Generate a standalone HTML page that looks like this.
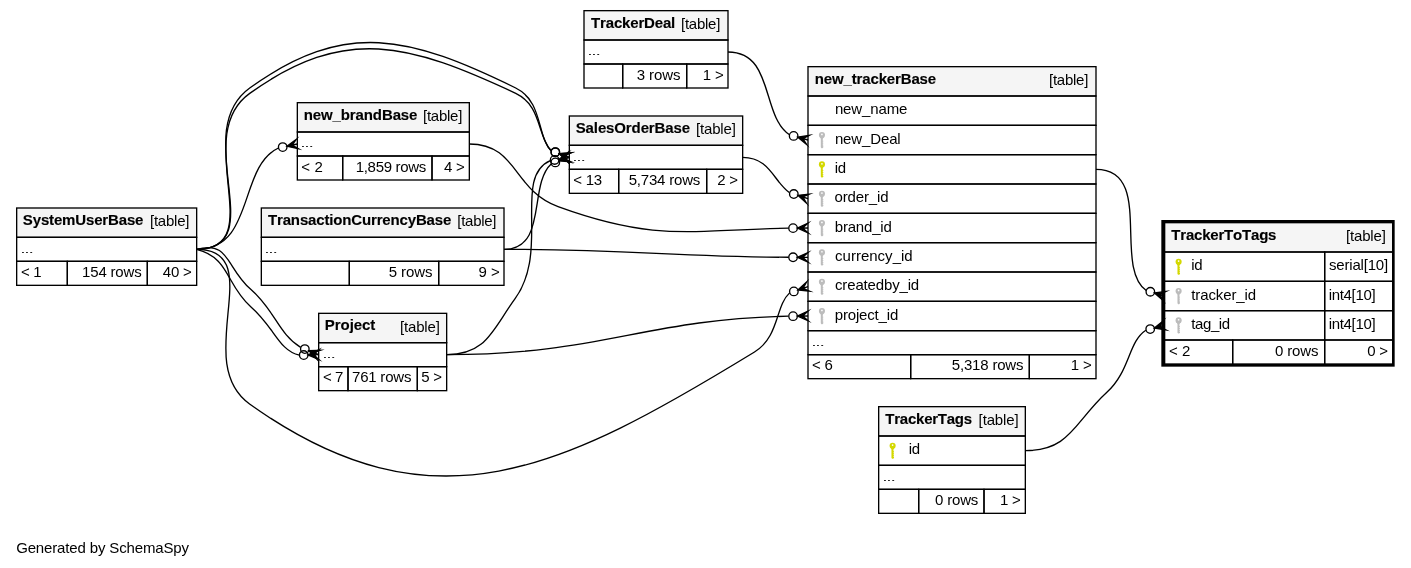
<!DOCTYPE html>
<html><head><meta charset="utf-8"><title>TrackerToTags</title>
<style>
html,body{margin:0;padding:0;background:#fff;}
body{width:1411px;height:568px;overflow:hidden;font-family:"Liberation Sans",Arial,sans-serif;}
svg{display:block;will-change:transform;}
text{font-kerning:none;}
</style></head><body>
<svg xmlns="http://www.w3.org/2000/svg" width="1411" height="568" viewBox="0 0 1058.25 426" font-family="'Liberation Sans',Arial,Helvetica,sans-serif" font-size="11.25">
<rect x="0" y="0" width="1058.25" height="426" fill="#fff"/>
<text x="12.1" y="414.8" textLength="129.65" lengthAdjust="spacing">Generated by SchemaSpy</text>
<g>
<rect x="223" y="77" width="129" height="22" fill="#f5f5f5"/>
<rect x="223" y="77" width="129" height="22" fill="none" stroke="#000" stroke-width="1"/>
<rect x="223" y="99" width="129" height="18" fill="none" stroke="#000" stroke-width="1"/>
<rect x="223" y="117" width="34" height="18" fill="none" stroke="#000" stroke-width="1"/>
<rect x="257" y="117" width="67" height="18" fill="none" stroke="#000" stroke-width="1"/>
<rect x="324" y="117" width="28" height="18" fill="none" stroke="#000" stroke-width="1"/>
<text x="227.75" y="89.8" textLength="85.33" lengthAdjust="spacing" font-weight="bold" stroke="#000" stroke-width="0.1" stroke-linejoin="round">new_brandBase</text>
<text x="317.27" y="90.8" textLength="29.48" lengthAdjust="spacing">[table]</text>
<text transform="translate(225.19,110.25) scale(1.3,0.62)" letter-spacing="-0.75" fill="#222">...</text>
<text x="226" y="128.8" textLength="16.06" lengthAdjust="spacing">&lt; 2</text>
<text x="266.75" y="128.8" textLength="53.03" lengthAdjust="spacing">1,859 rows</text>
<text x="333" y="128.8" textLength="15.6" lengthAdjust="spacing">4 &gt;</text>
</g>
<g>
<rect x="12.5" y="156" width="135" height="22" fill="#f5f5f5"/>
<rect x="12.5" y="156" width="135" height="22" fill="none" stroke="#000" stroke-width="1"/>
<rect x="12.5" y="178" width="135" height="18" fill="none" stroke="#000" stroke-width="1"/>
<rect x="12.5" y="196" width="38" height="18" fill="none" stroke="#000" stroke-width="1"/>
<rect x="50.5" y="196" width="60" height="18" fill="none" stroke="#000" stroke-width="1"/>
<rect x="110.5" y="196" width="37" height="18" fill="none" stroke="#000" stroke-width="1"/>
<text x="17.13" y="168.8" textLength="90.46" lengthAdjust="spacing" font-weight="bold" stroke="#000" stroke-width="0.1" stroke-linejoin="round">SystemUserBase</text>
<text x="112.45" y="169.8" textLength="29.64" lengthAdjust="spacing">[table]</text>
<text transform="translate(15.19,189.75) scale(1.3,0.62)" letter-spacing="-0.75" fill="#222">...</text>
<text x="15.66" y="207.8" textLength="15.47" lengthAdjust="spacing">&lt; 1</text>
<text x="61.59" y="207.8" textLength="44.63" lengthAdjust="spacing">154 rows</text>
<text x="122.1" y="207.8" textLength="21.7" lengthAdjust="spacing">40 &gt;</text>
</g>
<g>
<rect x="606" y="50" width="216" height="22" fill="#f5f5f5"/>
<rect x="606" y="50" width="216" height="22" fill="none" stroke="#000" stroke-width="1"/>
<rect x="606" y="72" width="216" height="22" fill="none" stroke="#000" stroke-width="1"/>
<rect x="606" y="94" width="216" height="22" fill="none" stroke="#000" stroke-width="1"/>
<rect x="606" y="116" width="216" height="22" fill="none" stroke="#000" stroke-width="1"/>
<rect x="606" y="138" width="216" height="22" fill="none" stroke="#000" stroke-width="1"/>
<rect x="606" y="160" width="216" height="22" fill="none" stroke="#000" stroke-width="1"/>
<rect x="606" y="182" width="216" height="22" fill="none" stroke="#000" stroke-width="1"/>
<rect x="606" y="204" width="216" height="22" fill="none" stroke="#000" stroke-width="1"/>
<rect x="606" y="226" width="216" height="22" fill="none" stroke="#000" stroke-width="1"/>
<rect x="606" y="248" width="216" height="18" fill="none" stroke="#000" stroke-width="1"/>
<rect x="606" y="266" width="77" height="18" fill="none" stroke="#000" stroke-width="1"/>
<rect x="683" y="266" width="89" height="18" fill="none" stroke="#000" stroke-width="1"/>
<rect x="772" y="266" width="50" height="18" fill="none" stroke="#000" stroke-width="1"/>
<g fill="#bcbcbc"><circle cx="616.46" cy="101.31" r="2.29"/><path d="M614.7,102.4L618.23,102.4L617.1,104.05L617.1,105.47L617.51,105.47L617.51,106.15L617.1,106.15L617.1,106.97L617.51,106.97L617.51,107.65L617.1,107.65L617.1,108.47L617.51,108.47L617.51,109.15L617.1,109.15L617.1,109.75L617.51,109.75L617.51,110.5L616.8,111.1L616.12,111.1L615.6,110.5L615.6,104.05z"/><circle cx="616.46" cy="100.83" r="0.64" fill="#fff"/></g>
<g fill="#d4d800"><circle cx="616.46" cy="123.31" r="2.29"/><path d="M614.7,124.4L618.23,124.4L617.1,126.05L617.1,127.47L617.51,127.47L617.51,128.15L617.1,128.15L617.1,128.97L617.51,128.97L617.51,129.65L617.1,129.65L617.1,130.47L617.51,130.47L617.51,131.15L617.1,131.15L617.1,131.75L617.51,131.75L617.51,132.5L616.8,133.1L616.12,133.1L615.6,132.5L615.6,126.05z"/><circle cx="616.46" cy="122.83" r="0.64" fill="#fff"/></g>
<g fill="#bcbcbc"><circle cx="616.46" cy="145.31" r="2.29"/><path d="M614.7,146.4L618.23,146.4L617.1,148.05L617.1,149.47L617.51,149.47L617.51,150.15L617.1,150.15L617.1,150.97L617.51,150.97L617.51,151.65L617.1,151.65L617.1,152.47L617.51,152.47L617.51,153.15L617.1,153.15L617.1,153.75L617.51,153.75L617.51,154.5L616.8,155.1L616.12,155.1L615.6,154.5L615.6,148.05z"/><circle cx="616.46" cy="144.82" r="0.64" fill="#fff"/></g>
<g fill="#bcbcbc"><circle cx="616.46" cy="167.31" r="2.29"/><path d="M614.7,168.4L618.23,168.4L617.1,170.05L617.1,171.47L617.51,171.47L617.51,172.15L617.1,172.15L617.1,172.97L617.51,172.97L617.51,173.65L617.1,173.65L617.1,174.47L617.51,174.47L617.51,175.15L617.1,175.15L617.1,175.75L617.51,175.75L617.51,176.5L616.8,177.1L616.12,177.1L615.6,176.5L615.6,170.05z"/><circle cx="616.46" cy="166.82" r="0.64" fill="#fff"/></g>
<g fill="#bcbcbc"><circle cx="616.46" cy="189.31" r="2.29"/><path d="M614.7,190.4L618.23,190.4L617.1,192.05L617.1,193.47L617.51,193.47L617.51,194.15L617.1,194.15L617.1,194.97L617.51,194.97L617.51,195.65L617.1,195.65L617.1,196.47L617.51,196.47L617.51,197.15L617.1,197.15L617.1,197.75L617.51,197.75L617.51,198.5L616.8,199.1L616.12,199.1L615.6,198.5L615.6,192.05z"/><circle cx="616.46" cy="188.82" r="0.64" fill="#fff"/></g>
<g fill="#bcbcbc"><circle cx="616.46" cy="211.31" r="2.29"/><path d="M614.7,212.4L618.23,212.4L617.1,214.05L617.1,215.47L617.51,215.47L617.51,216.15L617.1,216.15L617.1,216.97L617.51,216.97L617.51,217.65L617.1,217.65L617.1,218.47L617.51,218.47L617.51,219.15L617.1,219.15L617.1,219.75L617.51,219.75L617.51,220.5L616.8,221.1L616.12,221.1L615.6,220.5L615.6,214.05z"/><circle cx="616.46" cy="210.82" r="0.64" fill="#fff"/></g>
<g fill="#bcbcbc"><circle cx="616.46" cy="233.31" r="2.29"/><path d="M614.7,234.4L618.23,234.4L617.1,236.05L617.1,237.47L617.51,237.47L617.51,238.15L617.1,238.15L617.1,238.97L617.51,238.97L617.51,239.65L617.1,239.65L617.1,240.47L617.51,240.47L617.51,241.15L617.1,241.15L617.1,241.75L617.51,241.75L617.51,242.5L616.8,243.1L616.12,243.1L615.6,242.5L615.6,236.05z"/><circle cx="616.46" cy="232.82" r="0.64" fill="#fff"/></g>
<text x="611.1" y="62.8" textLength="90.98" lengthAdjust="spacing" font-weight="bold" stroke="#000" stroke-width="0.1" stroke-linejoin="round">new_trackerBase</text>
<text x="786.78" y="63.8" textLength="29.48" lengthAdjust="spacing">[table]</text>
<text x="626.17" y="85.8" textLength="54.41" lengthAdjust="spacing">new_name</text>
<text x="626.17" y="107.8" textLength="49.36" lengthAdjust="spacing">new_Deal</text>
<text x="625.97" y="129.8" textLength="8.6" lengthAdjust="spacing">id</text>
<text x="625.96" y="151.8" textLength="40.4" lengthAdjust="spacing">order_id</text>
<text x="626.09" y="173.8" textLength="42.72" lengthAdjust="spacing">brand_id</text>
<text x="626.27" y="195.8" textLength="58.24" lengthAdjust="spacing">currency_id</text>
<text x="626.27" y="217.8" textLength="63.14" lengthAdjust="spacing">createdby_id</text>
<text x="626.09" y="239.8" textLength="47.58" lengthAdjust="spacing">project_id</text>
<text transform="translate(608.44,259.5) scale(1.3,0.62)" letter-spacing="-0.75" fill="#222">...</text>
<text x="608.96" y="277.8" textLength="15.65" lengthAdjust="spacing">&lt; 6</text>
<text x="713.85" y="277.8" textLength="53.77" lengthAdjust="spacing">5,318 rows</text>
<text x="803.1" y="277.8" textLength="15.65" lengthAdjust="spacing">1 &gt;</text>
</g>
<g>
<rect x="196" y="156" width="182" height="22" fill="#f5f5f5"/>
<rect x="196" y="156" width="182" height="22" fill="none" stroke="#000" stroke-width="1"/>
<rect x="196" y="178" width="182" height="18" fill="none" stroke="#000" stroke-width="1"/>
<rect x="196" y="196" width="66" height="18" fill="none" stroke="#000" stroke-width="1"/>
<rect x="262" y="196" width="67" height="18" fill="none" stroke="#000" stroke-width="1"/>
<rect x="329" y="196" width="49" height="18" fill="none" stroke="#000" stroke-width="1"/>
<text x="201" y="168.8" textLength="137.46" lengthAdjust="spacing" font-weight="bold" stroke="#000" stroke-width="0.1" stroke-linejoin="round">TransactionCurrencyBase</text>
<text x="342.96" y="169.8" textLength="29.44" lengthAdjust="spacing">[table]</text>
<text transform="translate(198.19,189.75) scale(1.3,0.62)" letter-spacing="-0.75" fill="#222">...</text>
<text x="199" y="207.8" textLength="38.78" lengthAdjust="spacing"> &#160;</text>
<text x="291.53" y="207.8" textLength="32.8" lengthAdjust="spacing">5 rows</text>
<text x="358.96" y="207.8" textLength="15.79" lengthAdjust="spacing">9 &gt;</text>
</g>
<g>
<rect x="438" y="8" width="108" height="22" fill="#f5f5f5"/>
<rect x="438" y="8" width="108" height="22" fill="none" stroke="#000" stroke-width="1"/>
<rect x="438" y="30" width="108" height="18" fill="none" stroke="#000" stroke-width="1"/>
<rect x="438" y="48" width="29" height="18" fill="none" stroke="#000" stroke-width="1"/>
<rect x="467" y="48" width="48" height="18" fill="none" stroke="#000" stroke-width="1"/>
<rect x="515" y="48" width="31" height="18" fill="none" stroke="#000" stroke-width="1"/>
<text x="443.3" y="20.8" textLength="63.15" lengthAdjust="spacing" font-weight="bold" stroke="#000" stroke-width="0.1" stroke-linejoin="round">TrackerDeal</text>
<text x="510.78" y="21.8" textLength="29.48" lengthAdjust="spacing">[table]</text>
<text transform="translate(440.44,41.25) scale(1.3,0.62)" letter-spacing="-0.75" fill="#222">...</text>
<text x="441" y="59.8" textLength="38.78" lengthAdjust="spacing"> &#160;</text>
<text x="477.64" y="59.8" textLength="32.69" lengthAdjust="spacing">3 rows</text>
<text x="527.1" y="59.8" textLength="15.65" lengthAdjust="spacing">1 &gt;</text>
</g>
<g>
<rect x="427" y="87" width="130" height="22" fill="#f5f5f5"/>
<rect x="427" y="87" width="130" height="22" fill="none" stroke="#000" stroke-width="1"/>
<rect x="427" y="109" width="130" height="18" fill="none" stroke="#000" stroke-width="1"/>
<rect x="427" y="127" width="37" height="18" fill="none" stroke="#000" stroke-width="1"/>
<rect x="464" y="127" width="66" height="18" fill="none" stroke="#000" stroke-width="1"/>
<rect x="530" y="127" width="27" height="18" fill="none" stroke="#000" stroke-width="1"/>
<text x="431.79" y="99.8" textLength="85.78" lengthAdjust="spacing" font-weight="bold" stroke="#000" stroke-width="0.1" stroke-linejoin="round">SalesOrderBase</text>
<text x="521.95" y="100.8" textLength="30" lengthAdjust="spacing">[table]</text>
<text transform="translate(429.19,120.75) scale(1.3,0.62)" letter-spacing="-0.75" fill="#222">...</text>
<text x="430" y="138.8" textLength="21.55" lengthAdjust="spacing">&lt; 13</text>
<text x="471.53" y="138.8" textLength="53.68" lengthAdjust="spacing">5,734 rows</text>
<text x="538" y="138.8" textLength="15.57" lengthAdjust="spacing">2 &gt;</text>
</g>
<g>
<rect x="239" y="235" width="96" height="22" fill="#f5f5f5"/>
<rect x="239" y="235" width="96" height="22" fill="none" stroke="#000" stroke-width="1"/>
<rect x="239" y="257" width="96" height="18" fill="none" stroke="#000" stroke-width="1"/>
<rect x="239" y="275" width="22" height="18" fill="none" stroke="#000" stroke-width="1"/>
<rect x="261" y="275" width="52" height="18" fill="none" stroke="#000" stroke-width="1"/>
<rect x="313" y="275" width="22" height="18" fill="none" stroke="#000" stroke-width="1"/>
<text x="243.64" y="247.8" textLength="37.88" lengthAdjust="spacing" font-weight="bold" stroke="#000" stroke-width="0.1" stroke-linejoin="round">Project</text>
<text x="299.95" y="248.8" textLength="30" lengthAdjust="spacing">[table]</text>
<text transform="translate(241.69,268.5) scale(1.3,0.62)" letter-spacing="-0.75" fill="#222">...</text>
<text x="242.16" y="286.8" textLength="15.43" lengthAdjust="spacing">&lt; 7</text>
<text x="264.01" y="286.8" textLength="44.55" lengthAdjust="spacing">761 rows</text>
<text x="315.92" y="286.8" textLength="15.66" lengthAdjust="spacing">5 &gt;</text>
</g>
<g>
<rect x="873.5" y="167" width="171" height="22" fill="#f5f5f5"/>
<rect x="873.5" y="167" width="171" height="22" fill="none" stroke="#000" stroke-width="1"/>
<rect x="873.5" y="189" width="120" height="22" fill="none" stroke="#000" stroke-width="1"/>
<rect x="993.5" y="189" width="51" height="22" fill="none" stroke="#000" stroke-width="1"/>
<rect x="873.5" y="211" width="120" height="22" fill="none" stroke="#000" stroke-width="1"/>
<rect x="993.5" y="211" width="51" height="22" fill="none" stroke="#000" stroke-width="1"/>
<rect x="873.5" y="233" width="120" height="22" fill="none" stroke="#000" stroke-width="1"/>
<rect x="993.5" y="233" width="51" height="22" fill="none" stroke="#000" stroke-width="1"/>
<rect x="873.5" y="255" width="51" height="18" fill="none" stroke="#000" stroke-width="1"/>
<rect x="924.5" y="255" width="69" height="18" fill="none" stroke="#000" stroke-width="1"/>
<rect x="993.5" y="255" width="51" height="18" fill="none" stroke="#000" stroke-width="1"/>
<rect x="872" y="166" width="173" height="108" fill="none" stroke="#000" stroke-width="2"/>
<g fill="#d4d800"><circle cx="883.96" cy="196.31" r="2.29"/><path d="M882.2,197.4L885.73,197.4L884.6,199.05L884.6,200.47L885.01,200.47L885.01,201.15L884.6,201.15L884.6,201.97L885.01,201.97L885.01,202.65L884.6,202.65L884.6,203.47L885.01,203.47L885.01,204.15L884.6,204.15L884.6,204.75L885.01,204.75L885.01,205.5L884.3,206.1L883.62,206.1L883.1,205.5L883.1,199.05z"/><circle cx="883.96" cy="195.82" r="0.64" fill="#fff"/></g>
<g fill="#bcbcbc"><circle cx="883.96" cy="218.31" r="2.29"/><path d="M882.2,219.4L885.73,219.4L884.6,221.05L884.6,222.47L885.01,222.47L885.01,223.15L884.6,223.15L884.6,223.97L885.01,223.97L885.01,224.65L884.6,224.65L884.6,225.47L885.01,225.47L885.01,226.15L884.6,226.15L884.6,226.75L885.01,226.75L885.01,227.5L884.3,228.1L883.62,228.1L883.1,227.5L883.1,221.05z"/><circle cx="883.96" cy="217.82" r="0.64" fill="#fff"/></g>
<g fill="#bcbcbc"><circle cx="883.96" cy="240.31" r="2.29"/><path d="M882.2,241.4L885.73,241.4L884.6,243.05L884.6,244.47L885.01,244.47L885.01,245.15L884.6,245.15L884.6,245.97L885.01,245.97L885.01,246.65L884.6,246.65L884.6,247.47L885.01,247.47L885.01,248.15L884.6,248.15L884.6,248.75L885.01,248.75L885.01,249.5L884.3,250.1L883.62,250.1L883.1,249.5L883.1,243.05z"/><circle cx="883.96" cy="239.82" r="0.64" fill="#fff"/></g>
<text x="878.5" y="179.8" textLength="78.84" lengthAdjust="spacing" font-weight="bold" stroke="#000" stroke-width="0.1" stroke-linejoin="round">TrackerToTags</text>
<text x="1009.45" y="180.8" textLength="30" lengthAdjust="spacing">[table]</text>
<text x="893.5" y="202.8" textLength="8.42" lengthAdjust="spacing">id</text>
<text x="996.74" y="202.8" textLength="44.37" lengthAdjust="spacing">serial[10]</text>
<text x="893.46" y="224.8" textLength="48.59" lengthAdjust="spacing">tracker_id</text>
<text x="996.47" y="224.8" textLength="35.32" lengthAdjust="spacing">int4[10]</text>
<text x="893.46" y="246.8" textLength="29.13" lengthAdjust="spacing">tag_id</text>
<text x="996.47" y="246.8" textLength="35.32" lengthAdjust="spacing">int4[10]</text>
<text x="876.81" y="266.8" textLength="16.03" lengthAdjust="spacing">&lt; 2</text>
<text x="956.29" y="266.8" textLength="32.54" lengthAdjust="spacing">0 rows</text>
<text x="1025.4" y="266.8" textLength="15.67" lengthAdjust="spacing">0 &gt;</text>
</g>
<g>
<rect x="659" y="305" width="110" height="22" fill="#f5f5f5"/>
<rect x="659" y="305" width="110" height="22" fill="none" stroke="#000" stroke-width="1"/>
<rect x="659" y="327" width="110" height="22" fill="none" stroke="#000" stroke-width="1"/>
<rect x="659" y="349" width="110" height="18" fill="none" stroke="#000" stroke-width="1"/>
<rect x="659" y="367" width="30" height="18" fill="none" stroke="#000" stroke-width="1"/>
<rect x="689" y="367" width="49" height="18" fill="none" stroke="#000" stroke-width="1"/>
<rect x="738" y="367" width="31" height="18" fill="none" stroke="#000" stroke-width="1"/>
<g fill="#d4d800"><circle cx="669.46" cy="334.31" r="2.29"/><path d="M667.7,335.4L671.23,335.4L670.1,337.05L670.1,338.48L670.51,338.48L670.51,339.15L670.1,339.15L670.1,339.98L670.51,339.98L670.51,340.65L670.1,340.65L670.1,341.48L670.51,341.48L670.51,342.15L670.1,342.15L670.1,342.75L670.51,342.75L670.51,343.5L669.8,344.1L669.12,344.1L668.6,343.5L668.6,337.05z"/><circle cx="669.46" cy="333.82" r="0.64" fill="#fff"/></g>
<text x="664" y="317.8" textLength="65.09" lengthAdjust="spacing" font-weight="bold" stroke="#000" stroke-width="0.1" stroke-linejoin="round">TrackerTags</text>
<text x="733.96" y="318.8" textLength="30" lengthAdjust="spacing">[table]</text>
<text x="681.47" y="340.8" textLength="8.6" lengthAdjust="spacing">id</text>
<text transform="translate(661.69,360.75) scale(1.3,0.62)" letter-spacing="-0.75" fill="#222">...</text>
<text x="662" y="378.8" textLength="38.78" lengthAdjust="spacing"> &#160;</text>
<text x="701.2" y="378.8" textLength="32.58" lengthAdjust="spacing">0 rows</text>
<text x="749.92" y="378.8" textLength="15.68" lengthAdjust="spacing">1 &gt;</text>
</g>
<g fill="none" stroke="#000" stroke-miterlimit="10">
<path d="M208.81,111C178.34,125.43 191.27,187 147.5,187"/>
<polygon fill="#000" points="215.17,109.66 222.26,104.48 219.09,108.83 223,108 223,108 223,108 219.09,108.83 223.74,111.52 215.17,109.66 215.17,109.66"/>
<circle cx="212.04" cy="110.32" r="3.2"/>
<path d="M591.54,171.13C519.19,172.38 492.33,181.9 418.56,155 384.47,142.57 388.31,108 352,108"/>
<polygon fill="#000" points="598,171.07 605.97,167.4 602,171.04 606,171 606,171 606,171 602,171.04 606.03,174.6 598,171.07 598,171.07"/>
<circle cx="594.8" cy="171.1" r="3.2"/>
<path d="M592.19,219.65C581.46,229.54 584.5,252.63 565.88,264 421.65,352.1 324.77,401.05 187.18,303 142.72,271.3 202.21,187 147.5,187"/>
<polygon fill="#000" points="598.42,217.56 604.85,211.59 602.21,216.28 606,215 606,215 606,215 602.21,216.28 607.15,218.41 598.42,217.56 598.42,217.56"/>
<circle cx="595.39" cy="218.58" r="3.2"/>
<path d="M591.53,192.96C502,192.42 474.38,187 378,187"/>
<polygon fill="#000" points="598,192.98 606.01,189.4 602,192.99 606,193 606,193 606,193 602,192.99 605.99,196.6 598,192.98 598,192.98"/>
<circle cx="594.8" cy="192.97" r="3.2"/>
<path d="M592.13,101.07C570.68,86.86 580.76,39 546,39"/>
<polygon fill="#000" points="598.3,102.82 606.98,101.54 602.15,103.91 606,105 606,105 606,105 602.15,103.91 605.02,108.46 598.3,102.82 598.3,102.82"/>
<circle cx="595.22" cy="101.95" r="3.2"/>
<path d="M591.96,144.43C580.13,135.8 577.11,118 557,118"/>
<polygon fill="#000" points="598.39,146.52 607.12,145.58 602.2,147.76 606,149 606,149 606,149 602.2,147.76 604.88,152.42 598.39,146.52 598.39,146.52"/>
<circle cx="595.35" cy="145.53" r="3.2"/>
<path d="M591.32,237.15C482.35,239.38 451.11,266 335,266"/>
<polygon fill="#000" points="598,237.08 605.96,233.4 602,237.04 606,237 606,237 606,237 602,237.04 606.04,240.6 598,237.08 598,237.08"/>
<circle cx="594.8" cy="237.11" r="3.2"/>
<path d="M413.35,113.07C402.48,102.14 407.4,76.06 386.8,66 307.25,27.13 259.07,14.32 187.3,66 141.21,99.22 204.5,187 147.5,187"/>
<polygon fill="#000" points="419.48,115.28 428.22,114.61 423.24,116.64 427,118 427,118 427,118 423.24,116.64 425.78,121.39 419.48,115.28 419.48,115.28"/>
<circle cx="416.47" cy="114.19" r="3.2"/>
<path d="M413.17,112.81C403.11,102.36 406.2,79.02 386.8,70 306.51,32.67 259.33,18.68 187.3,70 142.41,102.01 202.8,187 147.5,187"/>
<polygon fill="#000" points="419.51,115.19 428.26,114.63 423.25,116.6 427,118 427,118 427,118 423.25,116.6 425.74,121.37 419.51,115.19 419.51,115.19"/>
<circle cx="416.51" cy="114.07" r="3.2"/>
<path d="M413.36,122.96C396.11,138.78 410.88,187 378,187"/>
<polygon fill="#000" points="419.48,120.74 425.77,114.62 423.24,119.37 427,118 427,118 427,118 423.24,119.37 428.23,121.38 419.48,120.74 419.48,120.74"/>
<circle cx="416.48" cy="121.83" r="3.2"/>
<path d="M412.74,120.53C384.22,132.89 412.7,187.73 386.32,224 369.1,247.68 364.79,266 335,266"/>
<polygon fill="#000" points="419.12,119.4 426.37,114.46 423.06,118.7 427,118 427,118 427,118 423.06,118.7 427.63,121.54 419.12,119.4 419.12,119.4"/>
<circle cx="415.97" cy="119.96" r="3.2"/>
<path d="M224.56,266.37C208.94,262.91 205.81,245.35 188.05,230 169.58,214.04 172.19,193 147.5,187"/>
<polygon fill="#000" points="231,266.2 238.91,262.4 235,266.1 239,266 239,266 239,266 235,266.1 239.09,269.6 231,266.2 231,266.2"/>
<circle cx="227.8" cy="266.29" r="3.2"/>
<path d="M225.47,260.53C209.04,250.6 206.14,232.65 188.04,217 169.58,201.04 172.18,180 147.5,187"/>
<polygon fill="#000" points="231.58,263 240.35,262.66 235.29,264.5 239,266 239,266 239,266 235.29,264.5 237.65,269.34 231.58,263 231.58,263"/>
<circle cx="228.62" cy="261.8" r="3.2"/>
<path d="M859.66,217.92C834.53,199.73 865.66,127 822,127"/>
<polygon fill="#000" points="865.83,219.74 874.52,218.55 869.66,220.87 873.5,222 873.5,222 873.5,222 869.66,220.87 872.48,225.45 865.83,219.74 865.83,219.74"/>
<circle cx="862.76" cy="218.83" r="3.2"/>
<path d="M859.38,247.64C846.12,256.25 847.59,278.32 830.36,294 805.6,316.53 802.82,338 769,338"/>
<polygon fill="#000" points="865.75,246 872.6,240.51 869.63,245 873.5,244 873.5,244 873.5,244 869.63,245 874.4,247.49 865.75,246 865.75,246"/>
<circle cx="862.66" cy="246.8" r="3.2"/>
</g>
</svg>
</body></html>
